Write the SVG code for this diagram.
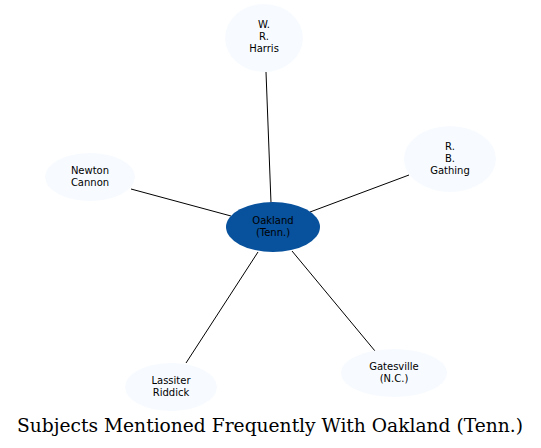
<svg xmlns="http://www.w3.org/2000/svg" width="541" height="448" viewBox="0 0 541 448">
<style>
.n{fill:#f7fbff;stroke:none}
.c{fill:#08519c;stroke:none}
.t{font-family:"DejaVu Sans",sans-serif;font-size:10px;fill:#000;text-anchor:middle}
.e{stroke:#000;stroke-width:1;fill:none}
.title{font-family:"DejaVu Serif",serif;font-size:18px;fill:#000;text-anchor:middle}
</style>
<rect width="541" height="448" fill="#fff"/>
<g id="edges">
<line class="e" x1="266" y1="72" x2="271" y2="203"/>
<line class="e" x1="409" y1="175" x2="310" y2="212"/>
<line class="e" x1="131" y1="189" x2="231" y2="216"/>
<line class="e" x1="186" y1="363" x2="258" y2="252"/>
<line class="e" x1="375" y1="351" x2="292" y2="251"/>
</g>
<g id="oakland">
<ellipse class="c" cx="273" cy="227" rx="47" ry="25"/>
<text class="t" x="273" y="224">Oakland</text>
<text class="t" x="273" y="236">(Tenn.)</text>
</g>
<g id="harris">
<ellipse class="n" cx="264" cy="38" rx="39" ry="34"/>
<text class="t" x="264" y="28">W.</text>
<text class="t" x="264" y="40">R.</text>
<text class="t" x="264" y="52">Harris</text>
</g>
<g id="gathing">
<ellipse class="n" cx="450" cy="159" rx="46" ry="33"/>
<text class="t" x="450" y="150">R.</text>
<text class="t" x="450" y="162">B.</text>
<text class="t" x="450" y="174">Gathing</text>
</g>
<g id="newton">
<ellipse class="n" cx="90" cy="177" rx="45" ry="24"/>
<text class="t" x="90" y="174">Newton</text>
<text class="t" x="90" y="186">Cannon</text>
</g>
<g id="lassiter">
<ellipse class="n" cx="171" cy="387" rx="46" ry="24"/>
<text class="t" x="171" y="384">Lassiter</text>
<text class="t" x="171" y="396">Riddick</text>
</g>
<g id="gatesville">
<ellipse class="n" cx="394" cy="373" rx="53" ry="24"/>
<text class="t" x="394" y="370">Gatesville</text>
<text class="t" x="394" y="382">(N.C.)</text>
</g>
<text class="title" x="270" y="432" textLength="506" lengthAdjust="spacingAndGlyphs">Subjects Mentioned Frequently With Oakland (Tenn.)</text>
</svg>
